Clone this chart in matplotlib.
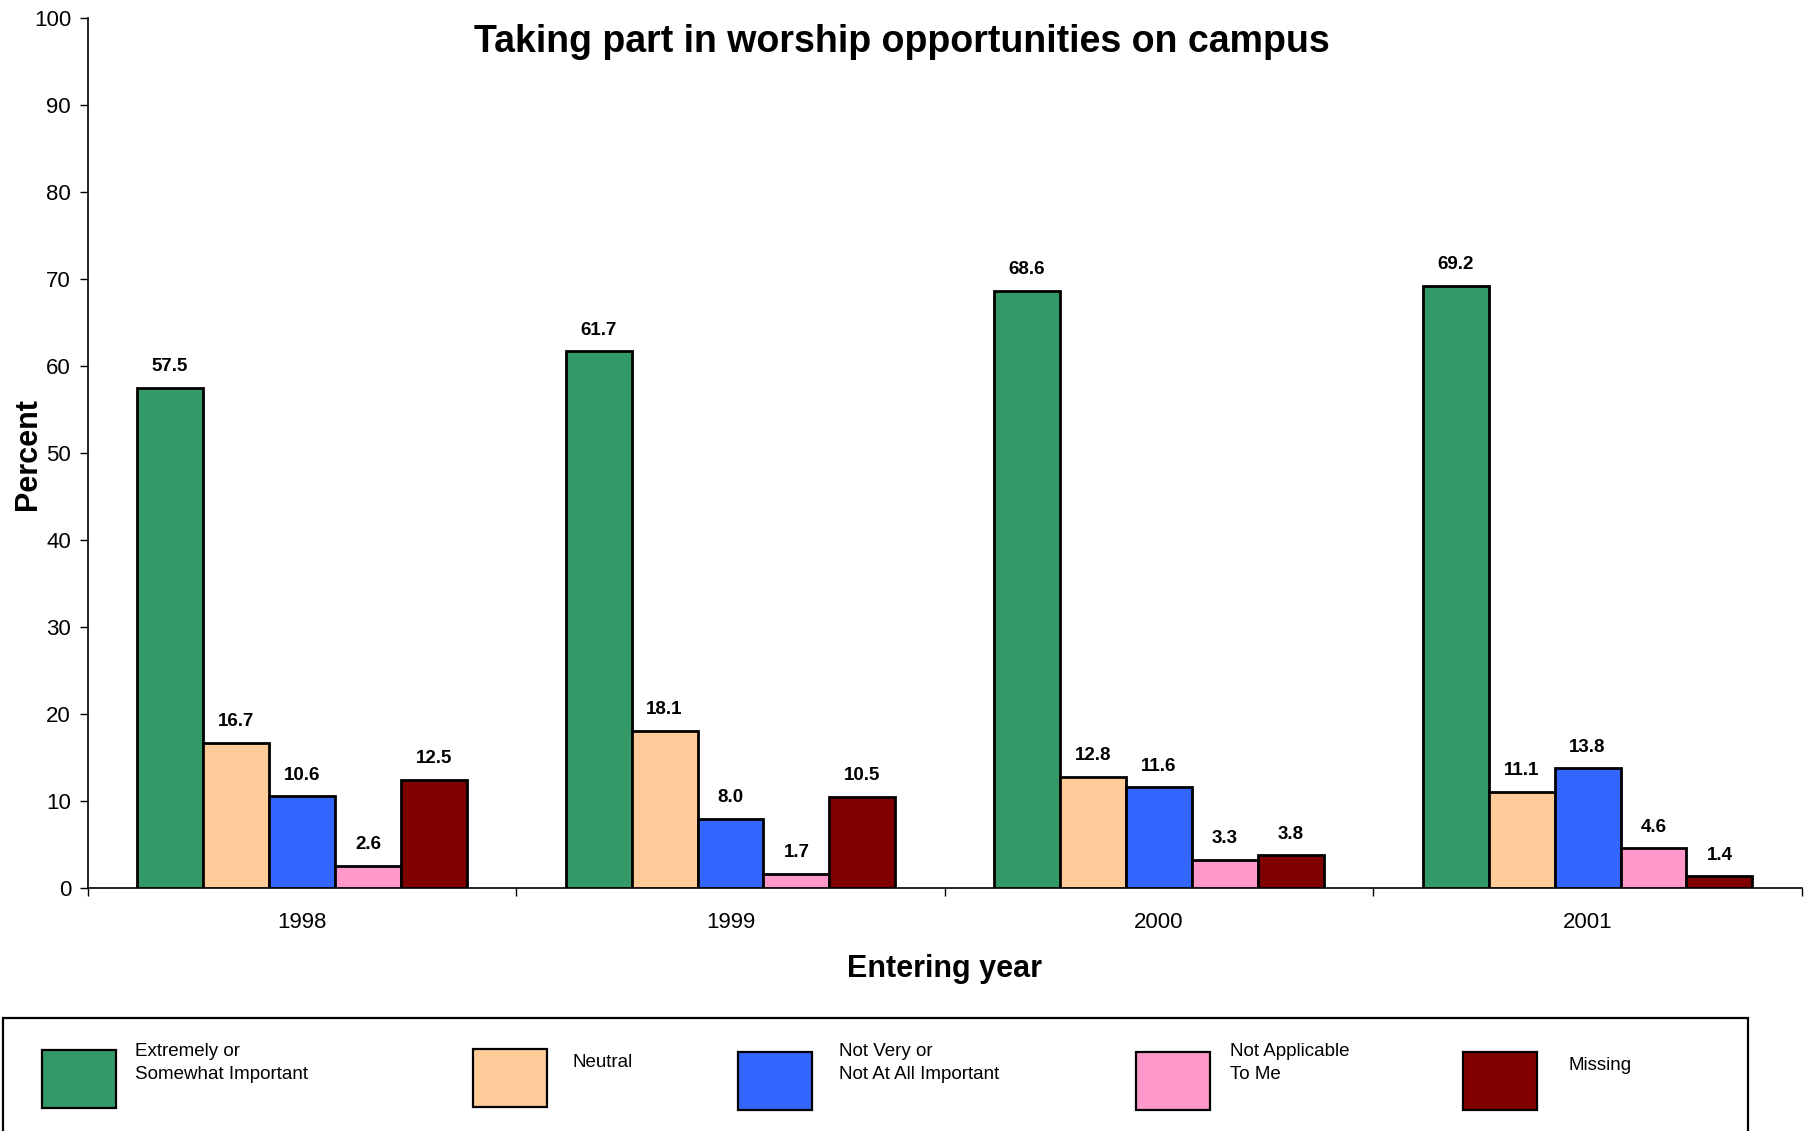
import matplotlib
matplotlib.use("Agg")
import matplotlib.pyplot as plt
import numpy as np
from matplotlib.patches import Rectangle

plt.rcParams["font.family"] = ["Liberation Sans", "DejaVu Sans"]

years = ["1998", "1999", "2000", "2001"]
series_names = [
    "Extremely or\nSomewhat Important",
    "Neutral",
    "Not Very or\nNot At All Important",
    "Not Applicable\nTo Me",
    "Missing",
]
important = [57.5, 61.7, 68.6, 69.2]
neutral = [16.7, 18.1, 12.8, 11.1]
not_important = [10.6, 8.0, 11.6, 13.8]
not_applicable = [2.6, 1.7, 3.3, 4.6]
missing = [12.5, 10.5, 3.8, 1.4]
series_values = [important, neutral, not_important, not_applicable, missing]
colors = ["#339966", "#FFCC99", "#3366FF", "#FF99CC", "#800000"]

W, H = 1809, 1131
fig = plt.figure(figsize=(W / 100, H / 100), dpi=100)
ax = fig.add_axes([0.0485, 0.2145, 0.9475, 0.770])

x = np.arange(len(years))
n = len(series_values)
group_width = 0.77
bar_width = group_width / n

for i, vals in enumerate(series_values):
    pos = x - group_width / 2 + bar_width * (i + 0.5)
    ax.bar(pos, vals, width=bar_width, color=colors[i], edgecolor="black",
           linewidth=2.0, zorder=3)
    for px, v in zip(pos, vals):
        ax.annotate(f"{v:.1f}", (px, v), xytext=(0, 9), textcoords="offset points",
                    ha="center", va="bottom", fontsize=13.5, fontweight="bold")

ax.set_xlim(-0.5, len(years) - 0.5)
ax.set_ylim(0, 100)
ax.set_yticks(np.arange(0, 101, 10))
ax.tick_params(axis="y", labelsize=16, length=6, width=1, direction="out", pad=6)
ax.set_xticks(np.arange(-0.5, len(years), 1.0))
ax.set_xticklabels([])
ax.set_xticks(x, minor=True)
ax.set_xticklabels(years, minor=True, fontsize=16)
ax.tick_params(axis="x", which="major", length=6, width=1, direction="out")
ax.tick_params(axis="x", which="minor", length=0, pad=17)

for s in ["top", "right"]:
    ax.spines[s].set_visible(False)
ax.spines["left"].set_linewidth(1.2)
ax.spines["bottom"].set_linewidth(1.2)

fig.text(902 / W, 1 - 42 / H, "Taking part in worship opportunities on campus",
         fontsize=27, fontweight="bold", ha="center", va="center")
fig.text(28 / W, 1 - 454 / H, "Percent", fontsize=22, fontweight="bold",
         rotation=90, ha="center", va="center")
fig.text(945 / W, 1 - 969 / H, "Entering year", fontsize=22, fontweight="bold",
         ha="center", va="center")

# legend box at bottom
fig.add_artist(Rectangle((2.5 / W, -0.01), (1748 - 2.5) / W, (1131 - 1017.5) / H + 0.01,
                         transform=fig.transFigure, facecolor="white",
                         edgecolor="black", linewidth=1.6))
patch_x = [42, 473, 738, 1136, 1463]
text_x = [135, 573, 839, 1230, 1568]
patch_top = [1050, 1049, 1052, 1052, 1052]
text_top = [1043, 1054, 1043, 1043, 1057]
for i, name in enumerate(series_names):
    fig.add_artist(Rectangle((patch_x[i] / W, 1 - (patch_top[i] + 58) / H), 74 / W, 58 / H,
                             transform=fig.transFigure, facecolor=colors[i],
                             edgecolor="black", linewidth=1.6))
    fig.text(text_x[i] / W, 1 - text_top[i] / H, name, fontsize=13.5, va="top",
             ha="left", linespacing=1.45)

fig.savefig("out.png", dpi=100)
